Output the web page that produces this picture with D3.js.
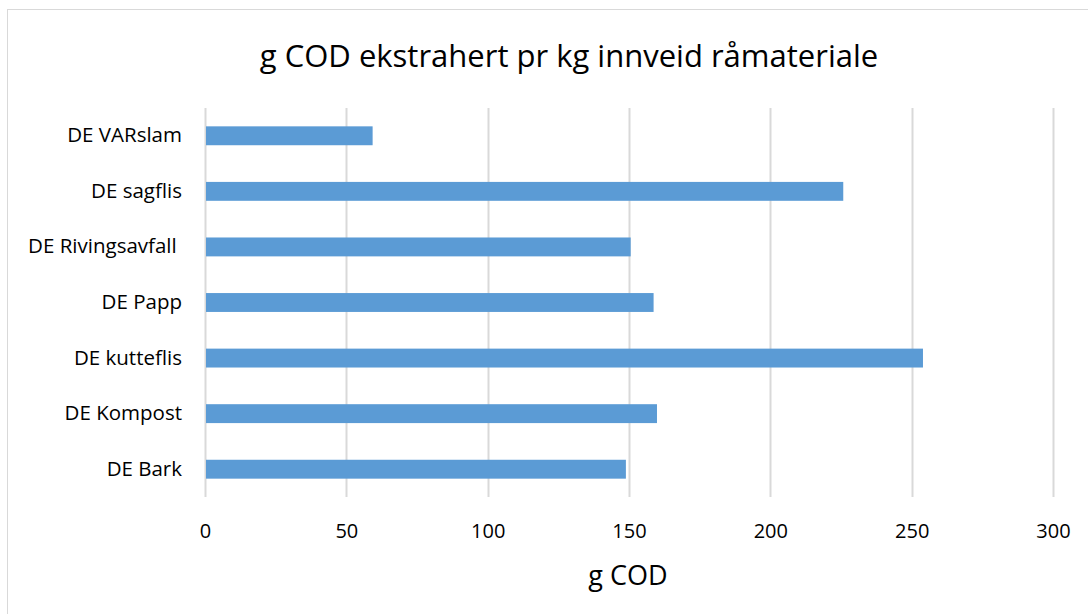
<!DOCTYPE html>
<html><head><meta charset="utf-8">
<script src="https://cdn.jsdelivr.net/npm/d3@7"></script>
<style>body{margin:0;background:#fff;} text{font-family:"Open Sans",sans-serif;fill:#000;}</style>
</head><body>
<svg id="c" width="1088" height="614"></svg>
<script>
const categories = ["DE VARslam","DE sagflis","DE Rivingsavfall\u00a0","DE Papp","DE kutteflis","DE Kompost","DE Bark"];
const values = [59.3, 225.8, 150.6, 158.7, 254.0, 159.9, 148.9];
const ticks = [0,50,100,150,200,250,300];
const title = "g COD ekstrahert pr kg innveid råmateriale";
const xTitle = "g COD";

const svg = d3.select("#c");
svg.append("rect").attr("x",7.5).attr("y",9.5).attr("width",1200).attr("height",800)
  .attr("fill","#fff").attr("stroke","#d9d9d9").attr("stroke-width",1);

const x = d3.scaleLinear().domain([0,300]).range([205,1053]);
const y = d3.scaleBand().domain(categories).range([108,497]).paddingInner(0.66).paddingOuter(0.33);

const g = svg.append("g");
g.selectAll("line.grid").data(ticks).join("line").attr("class","grid")
  .attr("x1",d=>Math.round(x(d))+0.5).attr("x2",d=>Math.round(x(d))+0.5)
  .attr("y1",108).attr("y2",497).attr("stroke","#d9d9d9").attr("stroke-width",2);

g.selectAll("rect.bar").data(values).join("rect").attr("class","bar")
  .attr("x",x(0)+1).attr("y",(d,i)=>y(categories[i]))
  .attr("width",d=>x(d)-x(0)-1).attr("height",y.bandwidth())
  .attr("fill","#5b9bd5");

const xAxis = d3.axisBottom(x).tickValues(ticks).tickSize(0).tickPadding(0);
const ax = svg.append("g").attr("transform","translate(0,536)").call(xAxis);
ax.select(".domain").remove();
ax.selectAll("text").attr("font-size",20).attr("font-family","Open Sans").attr("fill","#000").attr("dy","0.1em");

const yAxis = d3.axisLeft(y).tickSize(0).tickPadding(0);
const ay = svg.append("g").attr("transform","translate(182,0)").call(yAxis);
ay.select(".domain").remove();
ay.selectAll("text").attr("font-size",20.5).attr("font-family","Open Sans").attr("fill","#000")
  .style("white-space","pre");

svg.append("text").attr("x",569).attr("y",67).attr("text-anchor","middle")
  .attr("font-size",31).text(title);
svg.append("text").attr("x",628).attr("y",585).attr("text-anchor","middle")
  .attr("font-size",27).text(xTitle);
</script>
</body></html>
